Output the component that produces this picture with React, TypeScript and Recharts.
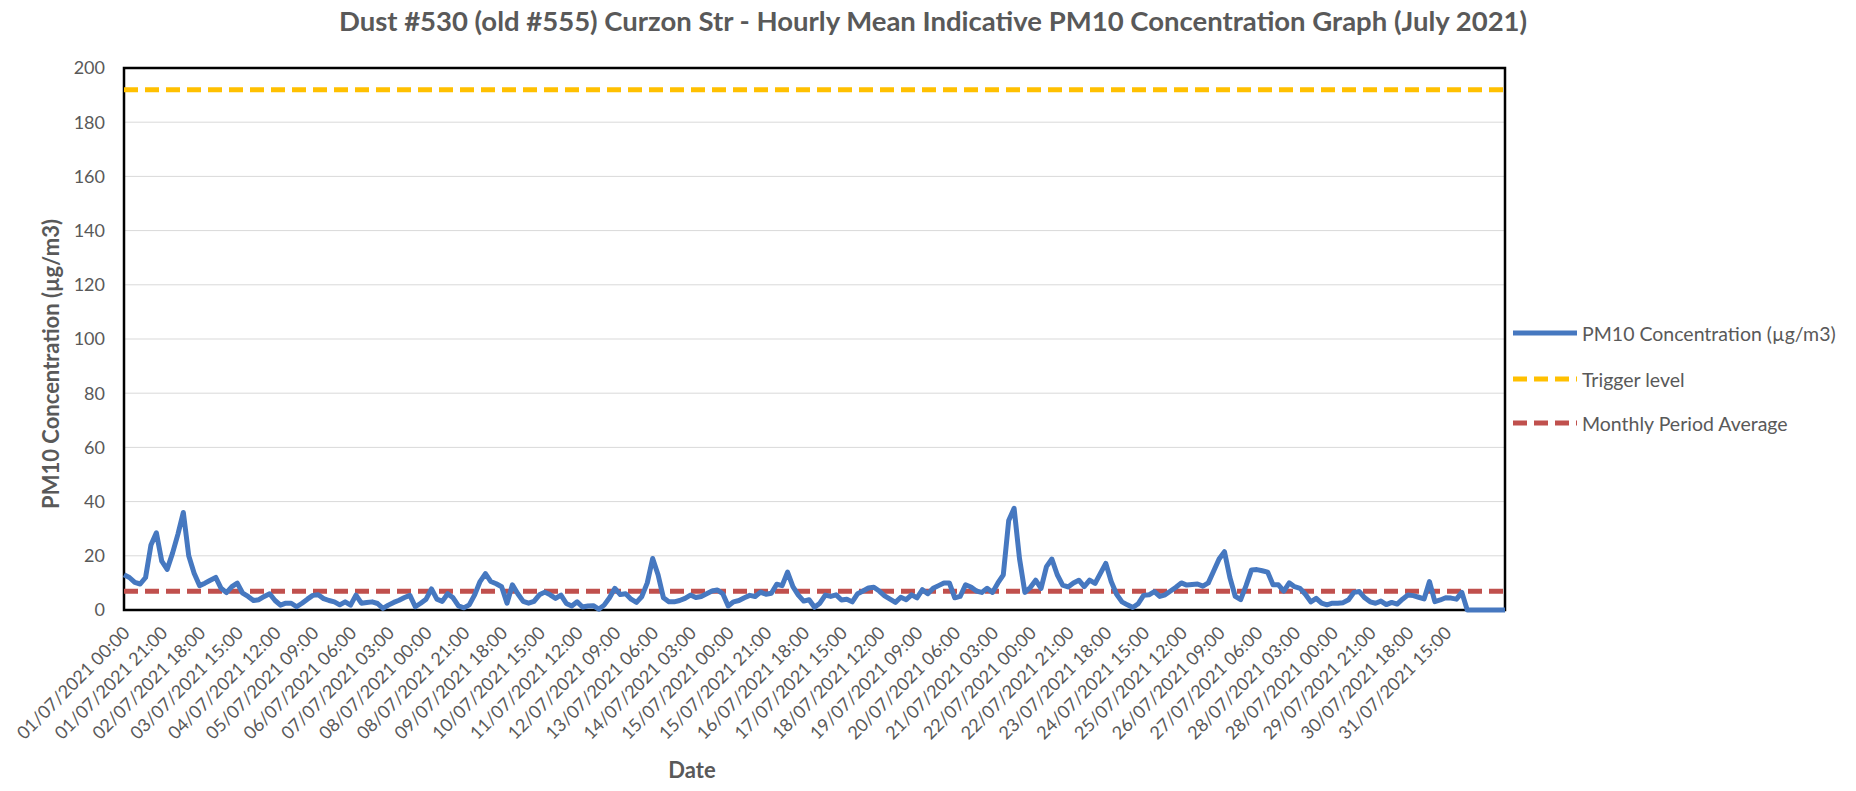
import React from 'react';
import { LineChart, Line, XAxis, YAxis, CartesianGrid, ReferenceLine, ReferenceArea, Label } from 'recharts';

// x-axis labels, one every 21 hours (as printed on the original, including the 28/07 typo)
const tickLabels = [
  '01/07/2021 00:00', '01/07/2021 21:00', '02/07/2021 18:00', '03/07/2021 15:00',
  '04/07/2021 12:00', '05/07/2021 09:00', '06/07/2021 06:00', '07/07/2021 03:00',
  '08/07/2021 00:00', '08/07/2021 21:00', '09/07/2021 18:00', '10/07/2021 15:00',
  '11/07/2021 12:00', '12/07/2021 09:00', '13/07/2021 06:00', '14/07/2021 03:00',
  '15/07/2021 00:00', '15/07/2021 21:00', '16/07/2021 18:00', '17/07/2021 15:00',
  '18/07/2021 12:00', '19/07/2021 09:00', '20/07/2021 06:00', '21/07/2021 03:00',
  '22/07/2021 00:00', '22/07/2021 21:00', '23/07/2021 18:00', '24/07/2021 15:00',
  '25/07/2021 12:00', '26/07/2021 09:00', '27/07/2021 06:00', '28/07/2021 03:00',
  '28/07/2021 00:00', '29/07/2021 21:00', '30/07/2021 18:00', '31/07/2021 15:00',
];

// PM10 readings (µg/m3), read every 3 hours from 01/07/2021 00:00
const pm10 = [
  13, 12, 10.2, 9.6, 12, 24, 28.5, 18, 15, 21,
  28, 36, 20, 13.6, 9, 9.9, 11, 12, 8, 6.4,
  8.6, 9.9, 6.2, 5, 3.5, 3.8, 5, 6, 3.5, 1.8,
  2.5, 2.5, 1.2, 2.5, 4, 5.4, 5.6, 4.2, 3.5, 3,
  1.9, 3, 1.8, 5.5, 2.5, 2.8, 3, 2.4, 0.6, 1.8,
  2.8, 3.6, 4.6, 5.4, 1.2, 2.5, 4, 7.8, 4, 3.2,
  6, 4.5, 1.5, 0.8, 1.9, 5.6,
  10.5, 13.4, 10.5, 9.7, 8.6, 2.5, 9.3, 6, 3.2, 2.5,
  3.2, 5.6, 6.6, 5.6, 4.3, 5.5, 2.4, 1.5, 3, 1.1,
  1.5, 1.6, 0.3, 1.8, 4.5, 8, 5.7, 6, 4, 2.8,
  5, 10, 19, 13, 4.5, 3, 3, 3.5, 4.3, 5.5,
  4.6, 5, 6, 7, 7.4, 6, 1.5, 3, 3.5, 4.5,
  5.4, 5, 6.6, 5.8, 6.2, 9.5, 9, 14, 8.6, 5.5,
  3.3, 3.8, 1, 2.5,
  5.5, 5, 5.6, 3.7, 4, 3, 6, 7, 8.1, 8.4,
  7, 5.2, 4, 2.8, 4.7, 3.8, 5.6, 4.5, 7.5, 6,
  8, 9, 10, 10, 4.5, 5, 9.3, 8.5, 7, 6.5,
  8, 6.5, 10, 13, 33, 37.5, 19, 6.5, 8.3, 11,
  8, 16, 18.8, 13, 9.2, 8.5, 10, 11, 8.6, 11,
  9.8, 13.5, 17.2, 10.5, 5.8, 3, 1.9, 0.9, 2.3, 5.4,
  5.6, 6.8, 5, 5.6,
  7, 8.4, 10, 9.2, 9.4, 9.6, 8.8, 10, 14.4, 18.8,
  21.5, 12, 5, 3.8, 9, 14.8, 14.9, 14.5, 14, 9.3,
  9.3, 7, 10, 8.6, 8, 5.8, 3, 4.3, 2.5, 1.9,
  2.5, 2.5, 2.7, 3.8, 6.5, 6.8, 4.5, 3, 2.5, 3.3,
  2, 2.8, 2.2, 4, 5.5, 5.3, 4.7, 4.1, 10.5, 3.1,
  3.7, 4.5, 4.4, 4, 6.5,
];
// empty rows at the end of the sheet plot as zero
const blankTail = [0, 0, 0, 0, 0, 0, 0, 0];

const triggerLevel = 192;
const monthlyAverage = 6.9;
const yTicks = [0, 20, 40, 60, 80, 100, 120, 140, 160, 180, 200];

const TICK_STEP = 7; // 7 samples = 21 hours
const FONT = "Lato, 'Open Sans', sans-serif";
const TEXT = '#595959';
const BLUE = '#4678C0';
const YELLOW = '#FFC000';
const RED = '#C0504D';

const series = [...pm10, ...blankTail];
const data = series.map((v, i) => ({ idx: i, pm10: v }));
const tickIdx = tickLabels.map((_, k) => k * TICK_STEP);

const W = 1840;
const H = 775;

const DateTick = (props: any) => {
  const { x, y, payload } = props;
  const label = tickLabels[payload.value / TICK_STEP] ?? '';
  const px = x + 7;
  const py = y + 24;
  return (
    <text x={px} y={py} transform={`rotate(-45, ${px}, ${py})`} textAnchor="end" fill={TEXT} fontSize={18} fontFamily={FONT}>
      {label}
    </text>
  );
};

const legendItems = [
  { name: 'PM10 Concentration (µg/m3)', color: BLUE, dash: undefined },
  { name: 'Trigger level', color: YELLOW, dash: '14 7' },
  { name: 'Monthly Period Average', color: RED, dash: '14 7' },
];

export default function App() {
  return (
    <div style={{ position: 'relative', width: W, height: H }}>
      <LineChart width={W} height={H} data={data} margin={{ top: 60, right: 343, left: 56, bottom: 43 }}>
        <CartesianGrid vertical={false} stroke="#D9D9D9" strokeWidth={1} />
        <XAxis
          dataKey="idx"
          type="number"
          domain={[0, series.length - 1]}
          ticks={tickIdx}
          interval={0}
          tick={<DateTick />}
          tickLine={false}
          axisLine={false}
          tickSize={0}
          tickMargin={0}
          height={130}
        >
          <Label
            content={() => (
              <text x={684} y={770} textAnchor="middle" fill={TEXT} fontSize={22} fontWeight="bold" fontFamily={FONT}>
                Date
              </text>
            )}
          />
        </XAxis>
        <YAxis
          domain={[0, 200]}
          ticks={yTicks}
          interval={0}
          width={60}
          tickLine={false}
          axisLine={false}
          tickSize={0}
          tickMargin={19}
          tick={{ fill: TEXT, fontSize: 18, fontFamily: FONT }}
        >
          <Label
            content={() => (
              <text
                x={42}
                y={356}
                transform="rotate(-90, 42, 356)"
                textAnchor="middle"
                dominantBaseline="central"
                fill={TEXT}
                fontSize={22}
                fontWeight="bold"
                fontFamily={FONT}
              >
                PM10 Concentration (µg/m3)
              </text>
            )}
          />
        </YAxis>
        <ReferenceArea x1={0} x2={series.length - 1} y1={0} y2={200} fill="none" stroke="#000" strokeWidth={2.5} />
        <ReferenceLine y={triggerLevel} stroke={YELLOW} strokeWidth={5} strokeDasharray="14 7" />
        <ReferenceLine y={monthlyAverage} stroke={RED} strokeWidth={5} strokeDasharray="14 7" />
        <Line
          dataKey="pm10"
          type="linear"
          stroke={BLUE}
          strokeWidth={5}
          strokeLinejoin="round"
          dot={false}
          activeDot={false}
          isAnimationActive={false}
        />
      </LineChart>
      {/* title and legend, in page coordinates (overlay starts at the page corner) */}
      <svg width={1856} height={791} style={{ position: 'absolute', left: -8, top: -8, pointerEvents: 'none' }}>
        <text x={933} y={31} textAnchor="middle" fill={TEXT} fontSize={27.5} fontWeight="bold" fontFamily={FONT}>
          Dust #530 (old #555) Curzon Str - Hourly Mean Indicative PM10 Concentration Graph (July 2021)
        </text>
        {legendItems.map((item, k) => {
          const cy = [333, 379, 423][k];
          return (
            <g key={item.name}>
              <line x1={1513} x2={1577} y1={cy} y2={cy} stroke={item.color} strokeWidth={5} strokeDasharray={item.dash} />
              <text x={1582} y={cy} dominantBaseline="central" fill={TEXT} fontSize={19.5} fontFamily={FONT}>
                {item.name}
              </text>
            </g>
          );
        })}
      </svg>
    </div>
  );
}
